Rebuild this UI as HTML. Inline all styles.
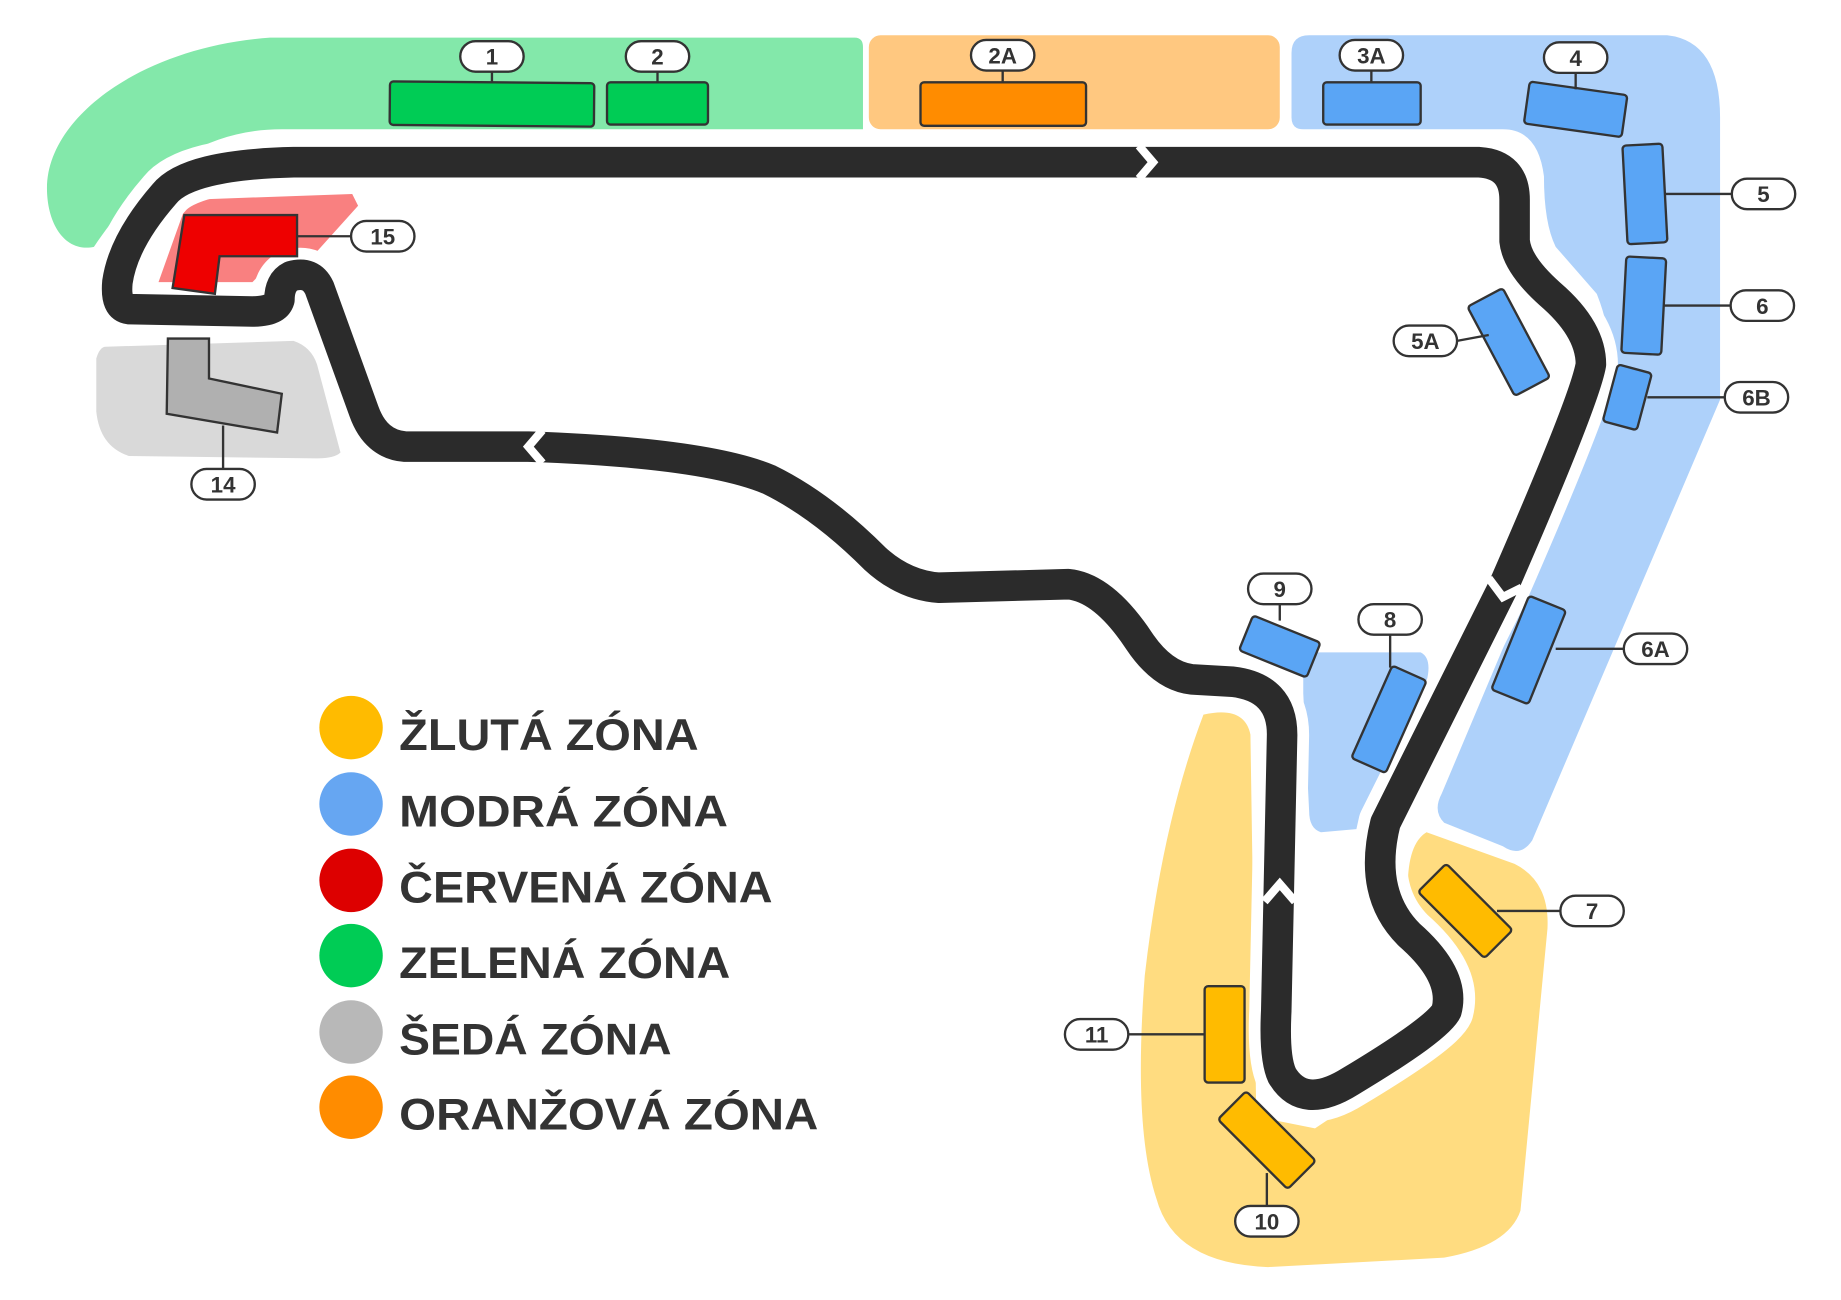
<!DOCTYPE html>
<html><head><meta charset="utf-8"><style>html,body{margin:0;padding:0;background:#fff}svg{display:block}</style></head><body>
<svg width="1841" height="1300" viewBox="0 0 1568 1106" preserveAspectRatio="none" xmlns="http://www.w3.org/2000/svg" font-family="Liberation Sans, DejaVu Sans, sans-serif">
<!-- zones -->
<path d="M40,160 C40,100 120,40 230,32 L728,32 Q735,32 735,40 L735,110 L240,110 C170,110 120,150 80,210 C55,215 40,190 40,160 Z" fill="#83e8aa"/>
<rect x="740" y="30" width="350" height="80" rx="10" fill="#ffc880"/>
<path d="M1115,30 L1420,30 Q1465,35 1465,100 L1465,340 L1305,715 Q1295,730 1280,720 L1230,700 Q1220,690 1228,675 L1365,350 Q1380,300 1360,250 L1325,210 Q1315,190 1315,150 Q1310,110 1280,110 L1110,110 Q1100,110 1100,100 L1100,45 Q1100,30 1115,30 Z" fill="#aed1fa"/>
<path d="M1110,555 L1210,555 Q1220,560 1215,580 L1160,705 L1125,708 Q1115,705 1115,690 L1110,590 Z" fill="#aed1fa"/>
<path d="M1025,608 Q1060,600 1065,625 L1070,950 L1120,960 L1240,880 Q1255,820 1200,775 Q1195,720 1215,708 L1290,735 Q1320,750 1318,790 L1295,1030 Q1285,1060 1230,1070 L1080,1078 Q1000,1075 985,1020 Q965,960 975,830 Q990,700 1025,608 Z" fill="#ffdc80"/>
<path d="M160,170 L300,165 L305,175 L260,225 L230,225 L215,240 L135,240 Z" fill="#f98080"/>
<path d="M90,295 L250,290 Q265,295 270,310 L290,385 Q285,390 270,390 L110,388 Q85,380 82,350 L82,305 Q85,295 90,295 Z" fill="#d9d9d9"/>
<!-- track -->
<g fill="none" stroke-linejoin="round" stroke-linecap="round">
<path d="M250,138 L1260,138 Q1290,140 1290,170 L1290,205 Q1292,225 1320,250 Q1355,280 1355,310 Q1350,340 1280,500 L1180,700 Q1165,760 1200,795 Q1240,830 1232,860 Q1225,875 1150,920 Q1110,945 1092,915 Q1085,900 1087,860 L1092,625 Q1092,585 1050,580 L1015,578 Q990,575 970,545 Q940,500 910,497 L800,500 Q770,498 745,475 Q700,430 655,408 Q600,385 450,380 L345,380 Q320,378 310,350 L272,245 Q265,230 248,235 Q238,240 238,255 Q235,265 215,265 L110,263 Q98,262 100,240 Q105,205 140,165 Q160,140 250,138 Z" stroke="#fff" stroke-width="46"/>
<path d="M250,138 L1260,138 Q1290,140 1290,170 L1290,205 Q1292,225 1320,250 Q1355,280 1355,310 Q1350,340 1280,500 L1180,700 Q1165,760 1200,795 Q1240,830 1232,860 Q1225,875 1150,920 Q1110,945 1092,915 Q1085,900 1087,860 L1092,625 Q1092,585 1050,580 L1015,578 Q990,575 970,545 Q940,500 910,497 L800,500 Q770,498 745,475 Q700,430 655,408 Q600,385 450,380 L345,380 Q320,378 310,350 L272,245 Q265,230 248,235 Q238,240 238,255 Q235,265 215,265 L110,263 Q98,262 100,240 Q105,205 140,165 Q160,140 250,138 Z" stroke="#2b2b2b" stroke-width="26"/>
</g>
<g fill="none" stroke="#fff" stroke-width="7">
<polyline points="970,124 982,138 970,152"/>
<polyline points="462,366 450,380 462,394"/>
<polyline points="1268,492 1280,508 1296,500"/>
<polyline points="1077,767 1090,752 1103,767"/>
</g>
<!-- seats -->
<g stroke="#333" stroke-width="2">
<path d="M157,183 L253,183 L253,218 L187,218 L183,250 L147,245 Z" fill="#ee0000"/>
<path d="M143,288 L178,288 L178,322 L240,335 L236,368 L142,352 Z" fill="#b0b0b0"/>
<rect x="332" y="70" width="174" height="37" rx="3" fill="#00cc55" transform="rotate(0.5 419 88)"/>
<rect x="517" y="70" width="86" height="36" rx="3" fill="#00cc55"/>
<rect x="784" y="70" width="141" height="37" rx="3" fill="#ff8c00"/>
<g fill="#5aa5f5">
<rect x="1127" y="70" width="83" height="36" rx="3"/>
<rect x="-42" y="-18" width="84" height="36" rx="3" transform="translate(1342,93) rotate(8)"/>
<rect x="-17" y="-42" width="34" height="84" rx="3" transform="translate(1401,165) rotate(-3)"/>
<rect x="-17" y="-41" width="34" height="82" rx="3" transform="translate(1400,260) rotate(3)"/>
<rect x="-15" y="-25" width="30" height="50" rx="3" transform="translate(1386,338) rotate(15)"/>
<rect x="-17" y="-43" width="34" height="86" rx="3" transform="translate(1285,291) rotate(-28)"/>
<rect x="-17" y="-43" width="34" height="86" rx="3" transform="translate(1302,553) rotate(22)"/>
<rect x="-31" y="-16" width="62" height="32" rx="3" transform="translate(1090,550) rotate(22)"/>
<rect x="-16" y="-43" width="32" height="86" rx="3" transform="translate(1183,612) rotate(24)"/>
</g>
<g fill="#ffbb00">
<rect x="-17" y="-40" width="34" height="80" rx="3" transform="translate(1248,775) rotate(-45)"/>
<rect x="-17" y="-41" width="34" height="82" rx="3" transform="translate(1043,880)"/>
<rect x="-17" y="-42" width="34" height="84" rx="3" transform="translate(1079,970) rotate(-45)"/>
</g>
</g>
<!-- leader lines -->
<g stroke="#333" stroke-width="2">
<line x1="419" y1="61" x2="419" y2="70"/><line x1="560" y1="61" x2="560" y2="70"/>
<line x1="854" y1="60" x2="854" y2="70"/><line x1="1168" y1="60" x2="1168" y2="70"/>
<line x1="1342" y1="62" x2="1342" y2="76"/>
<line x1="1418" y1="165" x2="1476" y2="165"/><line x1="1417" y1="260" x2="1475" y2="260"/>
<line x1="1403" y1="338" x2="1469" y2="338"/><line x1="1241" y1="290" x2="1268" y2="285"/>
<line x1="1325" y1="552" x2="1383" y2="552"/><line x1="1090" y1="514" x2="1090" y2="528"/>
<line x1="1184" y1="540" x2="1184" y2="568"/><line x1="1275" y1="775" x2="1330" y2="775"/>
<line x1="961" y1="880" x2="1026" y2="880"/><line x1="1079" y1="998" x2="1079" y2="1026"/>
<line x1="190" y1="362" x2="190" y2="399"/><line x1="253" y1="201" x2="299" y2="201"/>
</g>
<!-- labels -->
<g font-weight="bold" font-size="19" fill="#333" text-anchor="middle">
<g stroke="#333" stroke-width="2" fill="#fff">
<rect x="392" y="35" width="54" height="26" rx="13"/><rect x="533" y="35" width="54" height="26" rx="13"/>
<rect x="827" y="34" width="54" height="26" rx="13"/><rect x="1141" y="34" width="54" height="26" rx="13"/>
<rect x="1315" y="36" width="54" height="26" rx="13"/><rect x="1475" y="152" width="54" height="26" rx="13"/>
<rect x="1474" y="247" width="54" height="26" rx="13"/><rect x="1469" y="325" width="54" height="26" rx="13"/>
<rect x="1187" y="277" width="54" height="26" rx="13"/><rect x="1383" y="539" width="54" height="26" rx="13"/>
<rect x="1063" y="488" width="54" height="26" rx="13"/><rect x="1157" y="514" width="54" height="26" rx="13"/>
<rect x="1329" y="762" width="54" height="26" rx="13"/><rect x="907" y="867" width="54" height="26" rx="13"/>
<rect x="1052" y="1026" width="54" height="26" rx="13"/><rect x="163" y="399" width="54" height="26" rx="13"/>
<rect x="299" y="188" width="54" height="26" rx="13"/>
</g>
<text x="419" y="55">1</text><text x="560" y="55">2</text><text x="854" y="54">2A</text>
<text x="1168" y="54">3A</text><text x="1342" y="56">4</text><text x="1502" y="172">5</text>
<text x="1501" y="267">6</text><text x="1496" y="345">6B</text><text x="1214" y="297">5A</text>
<text x="1410" y="559">6A</text><text x="1090" y="508">9</text><text x="1184" y="534">8</text>
<text x="1356" y="782">7</text><text x="934" y="887">11</text><text x="1079" y="1046">10</text>
<text x="190" y="419">14</text><text x="326" y="208">15</text>
</g>
<!-- legend -->
<circle cx="299" cy="619" r="27" fill="#ffbb00"/><circle cx="299" cy="684" r="27" fill="#66a6f2"/>
<circle cx="299" cy="749" r="27" fill="#dd0000"/><circle cx="299" cy="813" r="27" fill="#00cc55"/>
<circle cx="299" cy="878" r="27" fill="#b8b8b8"/><circle cx="299" cy="942" r="27" fill="#ff8c00"/>
<g font-weight="bold" font-size="38" fill="#333">
<text x="340" y="638" textLength="255" lengthAdjust="spacingAndGlyphs">ŽLUTÁ ZÓNA</text>
<text x="340" y="703" textLength="280" lengthAdjust="spacingAndGlyphs">MODRÁ ZÓNA</text>
<text x="340" y="768" textLength="318" lengthAdjust="spacingAndGlyphs">ČERVENÁ ZÓNA</text>
<text x="340" y="832" textLength="282" lengthAdjust="spacingAndGlyphs">ZELENÁ ZÓNA</text>
<text x="340" y="897" textLength="232" lengthAdjust="spacingAndGlyphs">ŠEDÁ ZÓNA</text>
<text x="340" y="961" textLength="357" lengthAdjust="spacingAndGlyphs">ORANŽOVÁ ZÓNA</text>
</g>
</svg>
</body></html>
